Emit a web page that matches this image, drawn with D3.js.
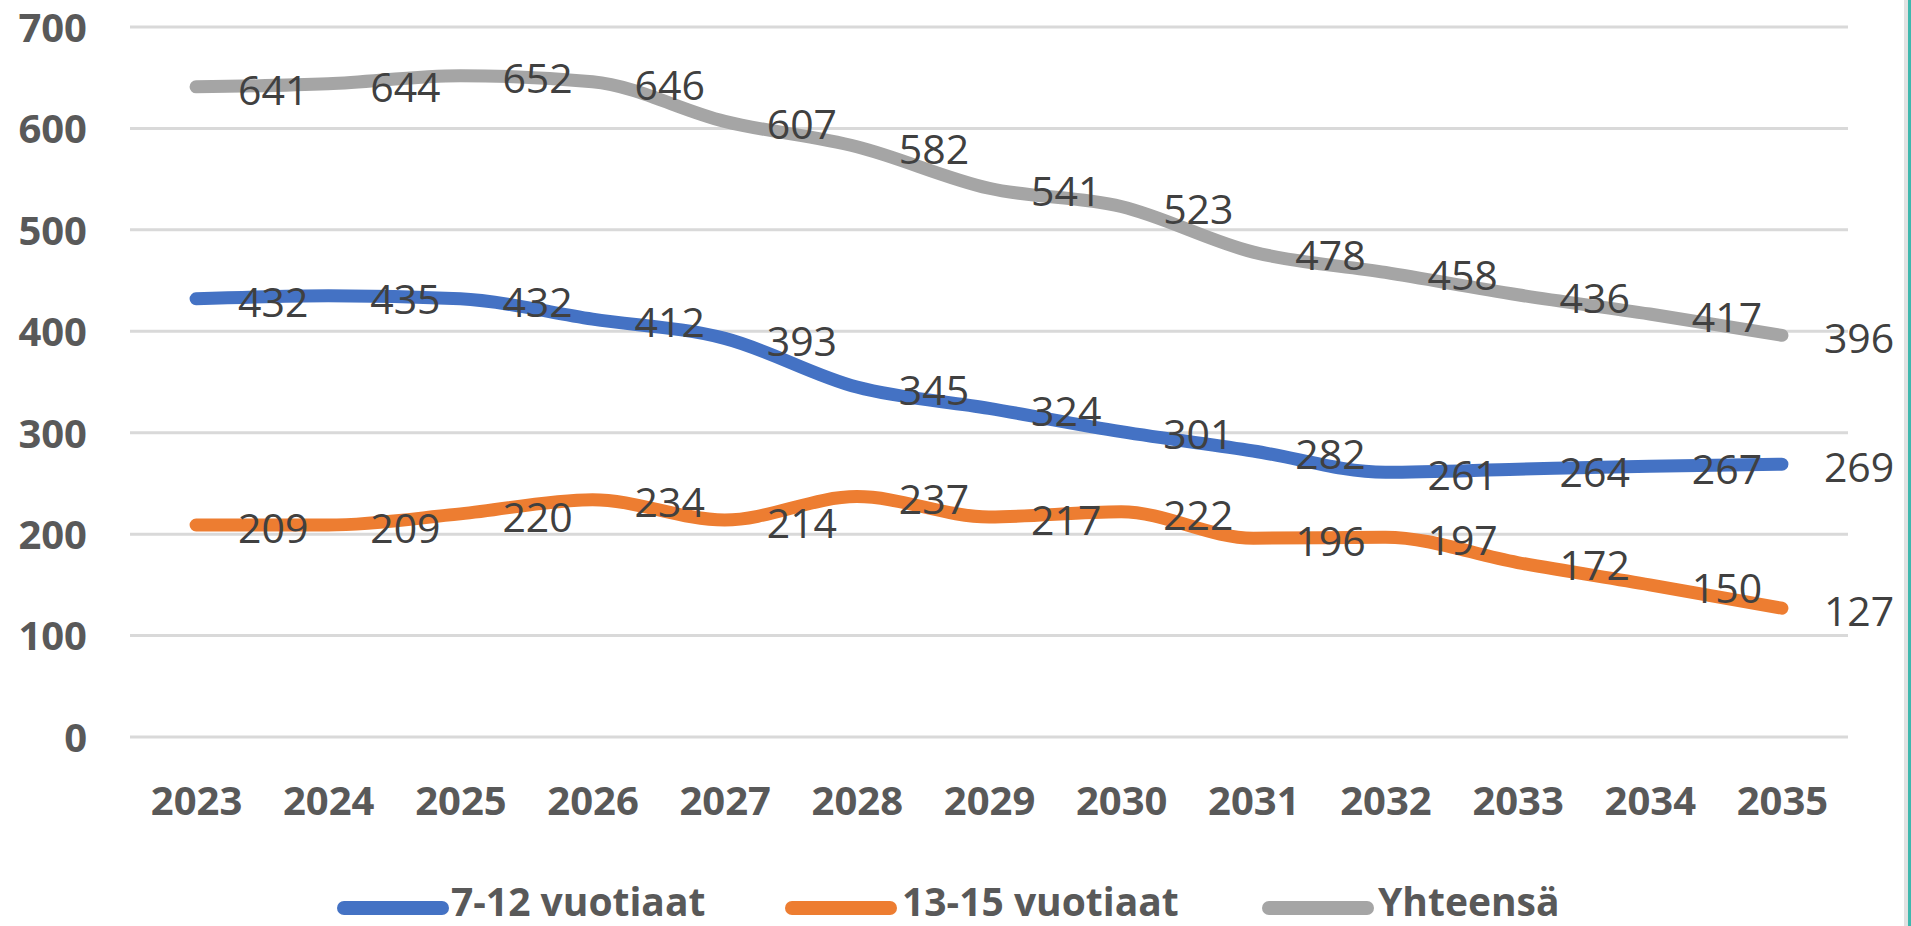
<!DOCTYPE html>
<html>
<head>
<meta charset="utf-8">
<script src="https://cdn.jsdelivr.net/npm/d3@7"></script>
<style>
  html, body { margin: 0; padding: 0; background: #fff; overflow: hidden; }
  svg { display: block; }
</style>
</head>
<body>
<div id="chart"></div>
<script>
// Vuodet ja sarjat
const years = ['2023', '2024', '2025', '2026', '2027', '2028', '2029', '2030', '2031', '2032', '2033', '2034', '2035'];
const ages7to12 = [432, 435, 432, 412, 393, 345, 324, 301, 282, 261, 264, 267, 269];
const ages13to15 = [209, 209, 220, 234, 214, 237, 217, 222, 196, 197, 172, 150, 127];
const total = [641, 644, 652, 646, 607, 582, 541, 523, 478, 458, 436, 417, 396];
const yTicks = [0, 100, 200, 300, 400, 500, 600, 700];
const seriesNames = ['7-12 vuotiaat', '13-15 vuotiaat', 'Yhteensä'];
const seriesColors = ['#4472C4', '#ED7D31', '#A5A5A5'];

const series = [
    { name: seriesNames[0], color: seriesColors[0], values: ages7to12 },
    { name: seriesNames[1], color: seriesColors[1], values: ages13to15 },
    { name: seriesNames[2], color: seriesColors[2], values: total }
];

const W = 1911, H = 926;
const plot = { left: 130, right: 1848, top: 27, bottom: 737 };

const svg = d3.select('#chart').append('svg')
    .attr('width', W)
    .attr('height', H);

svg.append('rect').attr('width', W).attr('height', H).attr('fill', '#fff');

// Reunus oikealla
svg.append('rect').attr('x', 1904).attr('y', 0).attr('width', 4).attr('height', H).attr('fill', '#e2e2e2');
svg.append('rect').attr('x', 1908).attr('y', 0).attr('width', 3).attr('height', H).attr('fill', '#3fb8ae');

// Asteikot
const x = d3.scalePoint()
    .domain(years)
    .range([plot.left, plot.right])
    .padding(0.5);

const y = d3.scaleLinear()
    .domain([0, 700])
    .range([plot.bottom, plot.top]);

// Vaakaviivat
svg.append('g')
    .selectAll('line')
    .data(yTicks)
    .join('line')
    .attr('x1', plot.left)
    .attr('x2', plot.right)
    .attr('y1', d => y(d))
    .attr('y2', d => y(d))
    .attr('stroke', '#d9d9d9')
    .attr('stroke-width', 3);

// Y-akseli
const yAxis = svg.append('g')
    .attr('transform', `translate(${plot.left - 43},0)`)
    .call(d3.axisLeft(y).tickValues(yTicks).tickSize(0).tickPadding(0));
yAxis.select('.domain').remove();
yAxis.selectAll('text')
    .attr('dy', '0.36em')
    .style('font-family', '"Open Sans", sans-serif')
    .style('font-size', '40px')
    .style('font-weight', '700')
    .style('fill', '#595959');

// X-akseli
const xAxis = svg.append('g')
    .attr('transform', `translate(0,${plot.bottom})`)
    .call(d3.axisBottom(x).tickSize(0).tickPadding(0));
xAxis.select('.domain').remove();
xAxis.selectAll('text')
    .attr('y', 64)
    .attr('dy', '0.36em')
    .style('font-family', '"Open Sans", sans-serif')
    .style('font-size', '40px')
    .style('font-weight', '700')
    .style('fill', '#595959');

// Viivat
const line = d3.line()
    .x((d, i) => x(years[i]))
    .y(d => y(d))
    .curve(d3.curveMonotoneX);

svg.append('g')
    .selectAll('path')
    .data(series)
    .join('path')
    .attr('d', d => line(d.values))
    .attr('fill', 'none')
    .attr('stroke', d => d.color)
    .attr('stroke-width', 13)
    .attr('stroke-linecap', 'round')
    .attr('stroke-linejoin', 'round');

// Arvojen tekstit pisteiden oikealla puolella
series.forEach(s => {
    svg.append('g')
        .selectAll('text')
        .data(s.values)
        .join('text')
        .attr('x', (d, i) => x(years[i]) + 42)
        .attr('y', d => y(d) + 3)
        .attr('dy', '0.36em')
        .style('font-family', '"Open Sans", sans-serif')
        .style('font-size', '41px')
        .style('fill', '#404040')
        .text(d => d);
});

// Selite
const legendItems = [
    { x: 337, tx: 451 },
    { x: 785, tx: 902 },
    { x: 1262, tx: 1378 }
];
const legend = svg.append('g').attr('transform', 'translate(0,904)');
legend.selectAll('line')
    .data(series)
    .join('line')
    .attr('x1', (d, i) => legendItems[i].x + 7)
    .attr('x2', (d, i) => legendItems[i].x + 105)
    .attr('y1', 4)
    .attr('y2', 4)
    .attr('stroke', d => d.color)
    .attr('stroke-width', 14)
    .attr('stroke-linecap', 'round');
legend.selectAll('text')
    .data(series)
    .join('text')
    .attr('x', (d, i) => legendItems[i].tx)
    .attr('dy', '0.3em')
    .style('font-family', '"Open Sans", sans-serif')
    .style('font-size', '39px')
    .style('font-weight', '700')
    .style('fill', '#595959')
    .text(d => d.name);
</script>
</body>
</html>
